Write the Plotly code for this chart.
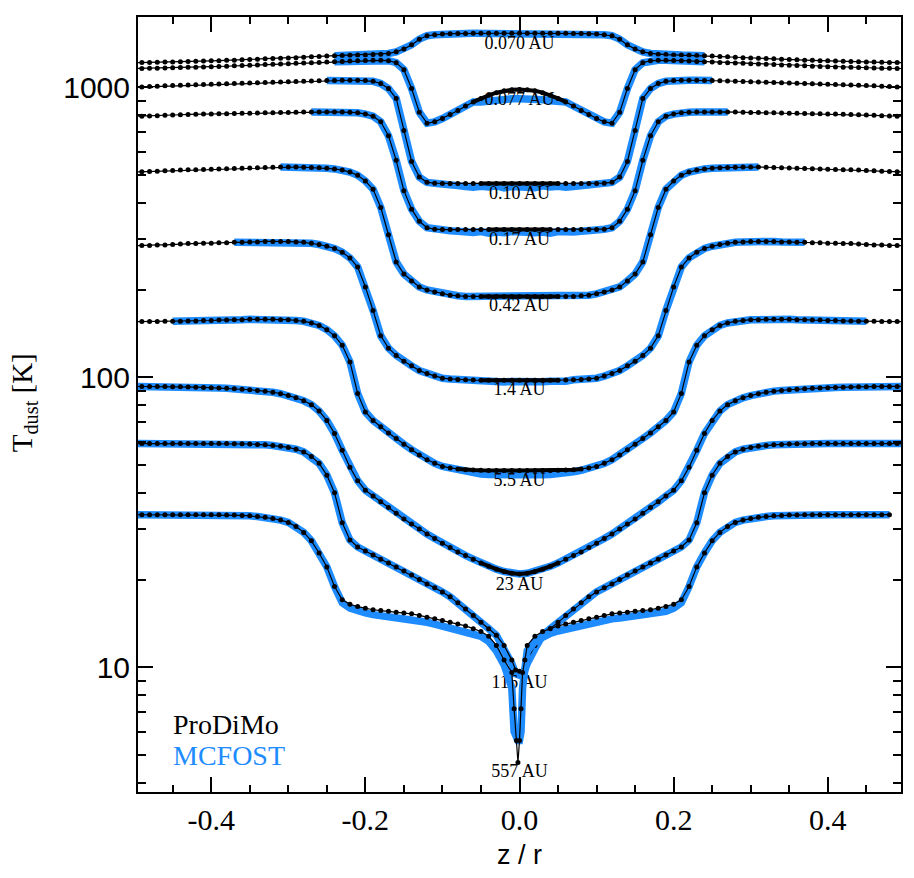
import plotly.graph_objects as go

# ---------------- data (half profiles z/r >= 0, mirrored) ----------------
Z_HALF = [0.00, 0.01, 0.02, 0.03, 0.04, 0.05, 0.06, 0.07, 0.08, 0.09,
          0.10, 0.11, 0.12, 0.13, 0.14, 0.15, 0.16, 0.17, 0.18, 0.19,
          0.20, 0.21, 0.22, 0.23, 0.24, 0.25, 0.26, 0.27, 0.28, 0.29,
          0.30, 0.31, 0.32, 0.33, 0.34, 0.35, 0.36, 0.37, 0.38, 0.39,
          0.40, 0.41, 0.42, 0.43, 0.44, 0.45, 0.46, 0.47, 0.48, 0.49, 0.50]
Z_116_INNER = [0.0, 0.005]
Z_557_INNER = [0.0, 0.002, 0.004, 0.007]

T_0070 = [1535, 1535, 1535, 1535, 1535, 1534, 1534, 1533, 1532, 1530,
          1525, 1517, 1505, 1465, 1400, 1355, 1325, 1308, 1300, 1296,
          1293, 1291, 1289, 1287, 1285, 1281, 1277, 1273, 1269, 1265,
          1262, 1259, 1256, 1253, 1249, 1246, 1243, 1240, 1238, 1235,
          1233, 1231, 1229, 1227, 1225, 1223, 1221, 1219, 1218, 1217, 1216]
T_0077 = [982, 980, 972, 958, 938, 915, 890, 862, 832, 805,
          780, 760, 752, 820, 990, 1150, 1215, 1235, 1238, 1239,
          1237, 1235, 1232, 1228, 1224, 1221, 1218, 1215, 1212, 1209,
          1206, 1203, 1200, 1197, 1194, 1191, 1188, 1185, 1182, 1179,
          1177, 1175, 1173, 1171, 1169, 1167, 1165, 1163, 1162, 1161, 1160]
T_010 = [466, 466, 466, 466, 466, 466, 466, 466, 466, 466,
         466, 467, 470, 490, 555, 710, 915, 990, 1030, 1048,
         1055, 1057, 1057, 1057, 1056, 1055, 1053, 1051, 1049, 1047,
         1045, 1043, 1041, 1039, 1037, 1035, 1033, 1031, 1029, 1027,
         1025, 1023, 1021, 1019, 1017, 1014, 1011, 1008, 1005, 1002, 1000]
T_017 = [323, 323, 323, 323, 323, 323, 323, 323, 323, 323,
         323, 324, 328, 345, 380, 440, 560, 680, 760, 795,
         808, 817, 820, 821, 822, 822, 822, 822, 821, 820,
         819, 818, 817, 816, 815, 814, 813, 812, 811, 810,
         809, 808, 807, 806, 804, 802, 800, 798, 796, 795, 794]
T_042 = [190, 190, 190, 190, 190, 190, 190, 190, 191, 192,
         194, 197, 200, 205, 215, 227, 250, 310, 385, 445,
         475, 497, 510, 518, 523, 526, 528, 529, 530, 531,
         531, 531, 530, 529, 528, 527, 526, 525, 524, 523,
         522, 521, 520, 519, 518, 516, 515, 513, 512, 511, 510]
T_14 = [97.7, 97.7, 97.7, 97.7, 97.7, 97.7, 97.8, 98.0, 98.3, 98.7,
        99.3, 101, 103, 105.5, 109.5, 113.5, 119, 126, 139, 170,
        205, 240, 258, 270, 278, 283, 287, 290, 292, 293,
        294, 294, 294, 294, 293, 293, 292, 292, 291, 291,
        290, 290, 289, 289, 288, 287, 286, 286, 285, 285, 284]
T_55 = [47.7, 47.7, 47.7, 47.7, 47.7, 47.8, 47.9, 48.0, 48.3, 48.7,
        49.3, 50.5, 52, 54, 56.3, 58.8, 61.5, 64.3, 67.5, 71,
        76, 88, 113, 129, 139, 146, 151, 154, 156, 157,
        158, 158, 158.5, 158.5, 158.5, 158.5, 158, 158, 157.5, 157.5,
        157, 157, 156.5, 156.5, 156, 156, 156, 155.8, 155.7, 155.6, 155.5]
T_23 = [21.0, 21.1, 21.4, 21.8, 22.3, 22.9, 23.6, 24.3, 25.0, 25.9,
        26.8, 27.8, 28.8, 30.0, 31.2, 32.5, 34.0, 35.6, 37.2, 39.0,
        40.8, 44, 49, 56, 64, 71, 76.5, 80.5, 83, 85,
        86.5, 87.8, 88.8, 89.6, 90.1, 90.6, 91, 91.3, 91.6, 91.9,
        92.1, 92.3, 92.5, 92.6, 92.7, 92.8, 92.9, 93, 93, 93, 93]
T_116 = [9.7, 9.8, 10.6, 11.9, 12.9, 13.6, 14.3, 15.1, 15.9, 16.7, 17.5,
         18.2, 18.8, 19.4, 20.1, 20.8, 21.5, 22.2, 22.9, 23.6, 24.4,
         25.2, 26.0, 27.5, 31.5, 40, 46, 50.5, 53.3, 55.3, 56.5,
         57.3, 57.8, 58.2, 58.5, 58.7, 58.9, 59, 59, 59.1, 59.1,
         59.1, 59.1, 59.1, 59.1, 59.1, 59.1, 59.1, 59.1, 59.1, 59.1, 59.1]
T_557 = [4.7, 5.6, 7.2, 9.6, 10.6, 11.9, 12.8, 13.3, 13.6, 13.9, 14.1, 14.3, 14.5,
         14.7, 14.9, 15.1, 15.3, 15.4, 15.5, 15.6, 15.7, 15.8, 16.0,
         16.2, 16.5, 17.1, 19.0, 22.2, 24.8, 27.3, 29.2, 30.6, 31.6,
         32.2, 32.6, 32.9, 33.1, 33.3, 33.4, 33.5, 33.5, 33.6, 33.6,
         33.6, 33.6, 33.6, 33.6, 33.6, 33.6, 33.6, 33.6, 33.6, 33.6]

# MCFOST (blue) differs from ProDiMo only near the midplane of some radii
MC_0077_INNER = [912, 912, 910, 905, 898, 890]
MC_010_INNER = [452, 455, 450, 457, 453, 456, 452, 455, 458, 460, 462]
MC_017_INNER = [316, 318, 315, 317, 314, 318, 316, 317, 319, 320]
MC_14_INNER = [96.5, 96.8, 96.3, 96.6, 96.9, 96.7, 97.0]
MC_55_INNER = [46.0, 46.0, 46.1, 46.1, 46.2, 46.4, 46.7, 47.2, 47.8]
MC_116_INNER = [9.4, 9.5, 10.3, 11.6]
MC_557_INNER = [5.6, 5.6, 6.0, 8.5, 10.2, 11.4, 12.3, 12.8, 13.1, 13.35, 13.55, 13.75, 13.9,
                14.1, 14.3, 14.5, 14.7, 14.8, 14.9, 15.0, 15.1, 15.2, 15.4,
                15.6, 16.0, 16.7]

LABELS = ["0.070 AU", "0.077 AU", "0.10 AU", "0.17 AU", "0.42 AU",
          "1.4 AU", "5.5 AU", "23 AU", "116 AU", "557 AU"]
LABEL_T = [1406, 902, 428, 297, 176, 90.2, 43.8, 19.2, 8.81, 4.34]
MC_ZMAX = [0.24, 0.24, 0.25, 0.27, 0.31, 0.37, 0.45, 0.50, 0.50, 0.50]
CORE_ZMAX = [0.0, 0.06, 0.05, 0.04, 0.05, 0.05, 0.08, 0.05, 0.0, 0.0]

X_TICKS = [-0.4, -0.2, 0.0, 0.2, 0.4]
X_TICKTEXT = ["-0.4", "-0.2", "0.0", "0.2", "0.4"]
X_MINOR = [-0.45, -0.35, -0.3, -0.25, -0.15, -0.1, -0.05, 0.05, 0.1, 0.15, 0.25, 0.3, 0.35, 0.45]
Y_TICKS = [10, 100, 1000]
Y_TICKTEXT = ["10", "100", "1000"]
Y_MINOR = [4, 5, 6, 7, 8, 9, 20, 30, 40, 50, 60, 70, 80, 90,
           200, 300, 400, 500, 600, 700, 800, 900]

# ---------------- build ----------------
BLUE = "#1E8CFF"
serif = "Liberation Serif, Times New Roman, serif"
sans = "Liberation Sans, Arial, Helvetica, sans-serif"

z_std = Z_HALF
z116 = Z_116_INNER + Z_HALF[1:]
z557 = Z_557_INNER + Z_HALF[1:]
prodimo = [
    (z_std, T_0070), (z_std, T_0077), (z_std, T_010), (z_std, T_017), (z_std, T_042),
    (z_std, T_14), (z_std, T_55), (z_std, T_23), (z116, T_116), (z557, T_557),
]
mc_inner = [[], MC_0077_INNER, MC_010_INNER, MC_017_INNER, [], MC_14_INNER,
            MC_55_INNER, [], MC_116_INNER, MC_557_INNER]


def mirror(z, t):
    return [-v for v in z[:0:-1]] + list(z), list(t[:0:-1]) + list(t)


fig = go.Figure()

for (z, t), inner, zmax, zc, lab, tl in zip(prodimo, mc_inner, MC_ZMAX, CORE_ZMAX, LABELS, LABEL_T):
    # MCFOST
    tb = list(inner) + list(t[len(inner):])
    zz = [v for v in z if v <= zmax + 1e-9]
    zf, tf = mirror(zz, tb[:len(zz)])
    fig.add_trace(go.Scatter(x=zf, y=tf, mode="lines",
                             line=dict(color=BLUE, width=7.5),
                             showlegend=False, hoverinfo="skip"))
    # ProDiMo
    zf, tf = mirror(z, t)
    fig.add_trace(go.Scatter(x=zf, y=tf, mode="lines+markers",
                             line=dict(color="black", width=1.2),
                             marker=dict(color="black", size=5),
                             showlegend=False, hoverinfo="skip"))
    if zc > 0:
        zz = [v for v in z if v <= zc + 1e-9]
        zf2, tf2 = mirror(zz, t[:len(zz)])
        fig.add_trace(go.Scatter(x=zf2, y=tf2, mode="lines",
                                 line=dict(color="black", width=4),
                                 showlegend=False, hoverinfo="skip"))
    # radius label
    fig.add_trace(go.Scatter(
        x=[0.0], y=[tl], mode="text", text=[lab], textposition="middle center",
        textfont=dict(family=serif, size=18, color="black"),
        showlegend=False, hoverinfo="skip"))

fig.update_layout(
    width=914, height=878,
    margin=dict(l=138, r=13, t=17, b=86),
    paper_bgcolor="white", plot_bgcolor="white",
    showlegend=False,
    xaxis=dict(
        range=[-0.495, 0.495], showgrid=False, zeroline=False,
        showline=True, linecolor="black", linewidth=2, mirror="ticks",
        ticks="inside", ticklen=15, tickwidth=2, tickcolor="black",
        tickmode="array", tickvals=X_TICKS, ticktext=X_TICKTEXT,
        tickfont=dict(family=serif, size=30, color="black"),
        minor=dict(ticks="inside", ticklen=7, tickwidth=2, tickcolor="black",
                   tickmode="array", tickvals=X_MINOR, showgrid=False),
    ),
    yaxis=dict(
        type="log", range=[0.5703, 3.2422], showgrid=False, zeroline=False,
        showline=True, linecolor="black", linewidth=2, mirror="ticks",
        ticks="inside", ticklen=15, tickwidth=2, tickcolor="black",
        tickmode="array", tickvals=Y_TICKS, ticktext=Y_TICKTEXT,
        tickfont=dict(family=sans, size=30, color="black"),
        minor=dict(ticks="inside", ticklen=8, tickwidth=2, tickcolor="black",
                   tickmode="array", tickvals=Y_MINOR, showgrid=False),
    ),
    annotations=[
        dict(text="ProDiMo", x=-0.452, y=0.802, xref="x", yref="y",
             xanchor="left", yanchor="middle", showarrow=False,
             font=dict(family=serif, size=28, color="black")),
        dict(text="MCFOST", x=-0.452, y=0.695, xref="x", yref="y",
             xanchor="left", yanchor="middle", showarrow=False,
             font=dict(family=serif, size=28, color=BLUE)),
        dict(text="z / r", x=0.0, y=-0.081, xref="x", yref="paper",
             xanchor="center", yanchor="middle", showarrow=False,
             font=dict(family=sans, size=27, color="black")),
        dict(text="T<sub>dust</sub> [K]", x=-0.149, y=0.502, xref="paper", yref="paper",
             xanchor="center", yanchor="middle", showarrow=False, textangle=-90,
             font=dict(family=serif, size=29, color="black")),
    ],
)

fig.write_html("out.html")
